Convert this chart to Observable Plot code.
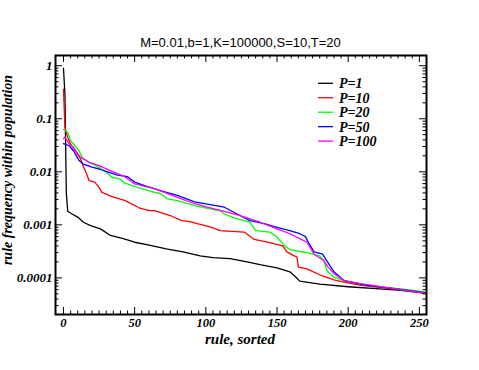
<!DOCTYPE html>
<html><head><meta charset="utf-8">
<script src="https://cdn.jsdelivr.net/npm/d3@7"></script>
<script src="https://cdn.jsdelivr.net/npm/@observablehq/plot@0.6"></script>
<style>body{margin:0;background:#fff} svg{display:block}</style>
</head><body><div id="chart"></div>
<script>
const title = "M=0.01,b=1,K=100000,S=10,T=20";
const xLabel = "rule, sorted";
const yLabel = "rule frequency within population";
const seriesNames = ["P=1", "P=10", "P=20", "P=50", "P=100"];
const seriesColors = ["#000000", "#ff0000", "#00ff00", "#0000ff", "#ff00ff"];
const xTicks = [0, 50, 100, 150, 200, 250];
const yTicks = [1, 0.1, 0.01, 0.001, 0.0001];

const rulesP1 = [0, 1, 2, 3, 6, 10, 14, 19, 26, 33, 42, 50, 61, 73, 84, 96, 105, 117, 129, 138, 150, 159, 163, 166, 180, 200, 222, 237, 255];
const freqP1 = [0.9, 0.3, 0.004, 0.0018, 0.0016, 0.0014, 0.00112, 0.00097, 0.00084, 0.00063, 0.00055, 0.00047, 0.00041, 0.00035, 0.00031, 0.00026, 0.00024, 0.00023, 0.0002, 0.000177, 0.000155, 0.00013, 0.000105, 8.7e-5, 7.6e-5, 6.8e-5, 6.2e-5, 5.8e-5, 5.1e-5];

const rulesP10 = [0, 1, 2, 3, 5, 9, 12, 14, 16, 18, 22, 25, 27, 30, 34, 43, 53, 60, 64, 75, 83, 89, 94, 103, 110, 127, 134, 145, 154, 157, 162, 164, 165, 171, 181, 190, 197, 209, 225, 237, 255];
const freqP10 = [0.36, 0.07, 0.055, 0.045, 0.0335, 0.0233, 0.0175, 0.0125, 0.0095, 0.0068, 0.0064, 0.0051, 0.0041, 0.0038, 0.0034, 0.0029, 0.0021, 0.00186, 0.00185, 0.0015, 0.0012, 0.00115, 0.00105, 0.00092, 0.00078, 0.00073, 0.00053, 0.00046, 0.0004, 0.00031, 0.00026, 0.00025, 0.00016, 0.000148, 0.000111, 9.2e-5, 8.3e-5, 7.2e-5, 6.5e-5, 6e-5, 5.1e-5];

const rulesP20 = [0, 1, 3, 5, 7, 11, 13, 18, 23, 30, 34, 40, 43, 52, 64, 68, 73, 80, 92, 103, 110, 113, 122, 131, 135, 145, 150, 155, 159, 171, 180, 183, 185, 190, 197, 213, 237, 255];
const freqP20 = [0.062, 0.06, 0.0556, 0.0387, 0.0335, 0.025, 0.0188, 0.0151, 0.0131, 0.0098, 0.0079, 0.0073, 0.0061, 0.0051, 0.0041, 0.0039, 0.0031, 0.00287, 0.0023, 0.002, 0.00186, 0.0016, 0.0013, 0.00112, 0.00078, 0.00073, 0.00059, 0.00041, 0.00034, 0.0003, 0.00026, 0.00021, 0.000138, 0.000103, 8.9e-5, 7.2e-5, 6.2e-5, 5.4e-5];

const rulesP50 = [0, 4, 7, 11, 14, 20, 25, 32, 38, 45, 50, 57, 68, 80, 92, 103, 113, 122, 131, 141, 150, 159, 166, 170, 172, 176, 182, 185, 190, 197, 202, 213, 237, 255];
const freqP50 = [0.034, 0.031, 0.025, 0.0163, 0.014, 0.0122, 0.0113, 0.0098, 0.0087, 0.0081, 0.0064, 0.0055, 0.0044, 0.0036, 0.0027, 0.0024, 0.00215, 0.0016, 0.0012, 0.00105, 0.0009, 0.00078, 0.00068, 0.0006, 0.00047, 0.00031, 0.00028, 0.00021, 0.00013, 8.9e-5, 8.3e-5, 7.2e-5, 6.1e-5, 5.2e-5];

const rulesP100 = [0, 1, 4, 7, 12, 18, 25, 32, 43, 50, 64, 80, 92, 103, 115, 124, 138, 150, 159, 166, 171, 176, 183, 185, 190, 197, 209, 237, 255];
const freqP100 = [0.042, 0.045, 0.0335, 0.029, 0.0188, 0.0151, 0.0131, 0.0108, 0.0081, 0.0059, 0.0048, 0.0033, 0.0025, 0.0021, 0.00173, 0.0015, 0.00112, 0.00084, 0.00068, 0.00055, 0.00047, 0.00028, 0.00021, 0.00017, 0.00012, 8.9e-5, 7.8e-5, 6e-5, 5.1e-5];

const seriesRules = [rulesP1, rulesP10, rulesP20, rulesP50, rulesP100];
const seriesFreqs = [freqP1, freqP10, freqP20, freqP50, freqP100];

const rows = [];
seriesNames.forEach((name, i) => {
  seriesRules[i].forEach((r, j) => rows.push({series: name, rule: r, freq: seriesFreqs[i][j]}));
});

const xDomain = [-5.6, 255];
const yDomain = [2.04e-5, 1.56];
const xMinor = d3.range(0, 256, 5).filter(v => v % 50 !== 0);
const yMinor = [];
for (let k = -5; k <= 0; k++) for (let m = 2; m <= 9; m++) {
  const v = m * Math.pow(10, k);
  if (v > yDomain[0] && v < yDomain[1]) yMinor.push(v);
}

const font = {fontFamily: "Liberation Serif", fontSize: 13, fontWeight: "bold", fontStyle: "italic"};
const mL = 55, mR = 53, mT = 55, mB = 56, W = 479, H = 370;
const fw = W - mL - mR, fh = H - mT - mB;
const major = 7, minor = 3.5;

const chart = Plot.plot({
  width: W, height: H,
  marginLeft: mL, marginRight: mR, marginTop: mT, marginBottom: mB,
  style: {background: "#fff", color: "#000"},
  x: {domain: xDomain, axis: null},
  y: {type: "log", domain: yDomain, axis: null},
  marks: [
    ...seriesNames.map((name, i) => Plot.line(rows.filter(d => d.series === name), {x: "rule", y: "freq", stroke: seriesColors[i], strokeWidth: 1.3})),
    Plot.tickX(xTicks, {x: d => d, insetTop: fh - major, stroke: "#000"}),
    Plot.tickX(xTicks, {x: d => d, insetBottom: fh - major, stroke: "#000"}),
    Plot.tickX(xMinor, {x: d => d, insetTop: fh - minor, stroke: "#000"}),
    Plot.tickX(xMinor, {x: d => d, insetBottom: fh - minor, stroke: "#000"}),
    Plot.tickY(yTicks, {y: d => d, insetRight: fw - major, stroke: "#000"}),
    Plot.tickY(yTicks, {y: d => d, insetLeft: fw - major, stroke: "#000"}),
    Plot.tickY(yMinor, {y: d => d, insetRight: fw - minor, stroke: "#000"}),
    Plot.tickY(yMinor, {y: d => d, insetLeft: fw - minor, stroke: "#000"}),
    Plot.axisX(xTicks, {anchor: "bottom", tickSize: 0, tickPadding: 3.5, label: null, tickFormat: d => String(d), ...font, fontSize: 12.5}),
    Plot.axisY(yTicks, {anchor: "left", tickSize: 0, tickPadding: 3, label: null, tickFormat: d => String(d), ...font}),
    Plot.frame({stroke: "#000", strokeWidth: 2})
  ]
});

document.getElementById("chart").appendChild(chart);
const svg = d3.select(chart);

svg.append("text").attr("x", 240.5).attr("y", 46.5).attr("text-anchor", "middle")
  .attr("font-family", "Liberation Sans").attr("font-size", 13).attr("fill", "#000").text(title);

svg.append("text").attr("x", 240).attr("y", 343.5).attr("text-anchor", "middle")
  .attr("font-family", "Liberation Serif").attr("font-size", 15).attr("font-weight", "bold").attr("font-style", "italic")
  .attr("fill", "#000").text(xLabel);

svg.append("text").attr("transform", "translate(12,170) rotate(-90)").attr("text-anchor", "middle")
  .attr("font-family", "Liberation Serif").attr("font-size", 14).attr("font-weight", "bold").attr("font-style", "italic")
  .attr("fill", "#000").text(yLabel);

const legend = svg.append("g");
seriesNames.forEach((name, i) => {
  const y = 83.3 + i * 14.45;
  legend.append("line").attr("x1", 318).attr("x2", 333).attr("y1", y).attr("y2", y)
    .attr("stroke", seriesColors[i]).attr("stroke-width", 1.3);
  legend.append("text").attr("x", 339).attr("y", y + 5).attr("text-anchor", "start").attr("font-family", "Liberation Serif")
    .attr("font-size", 14).attr("font-weight", "bold").attr("font-style", "italic").attr("fill", "#000").text(name);
});
</script>
</body></html>
